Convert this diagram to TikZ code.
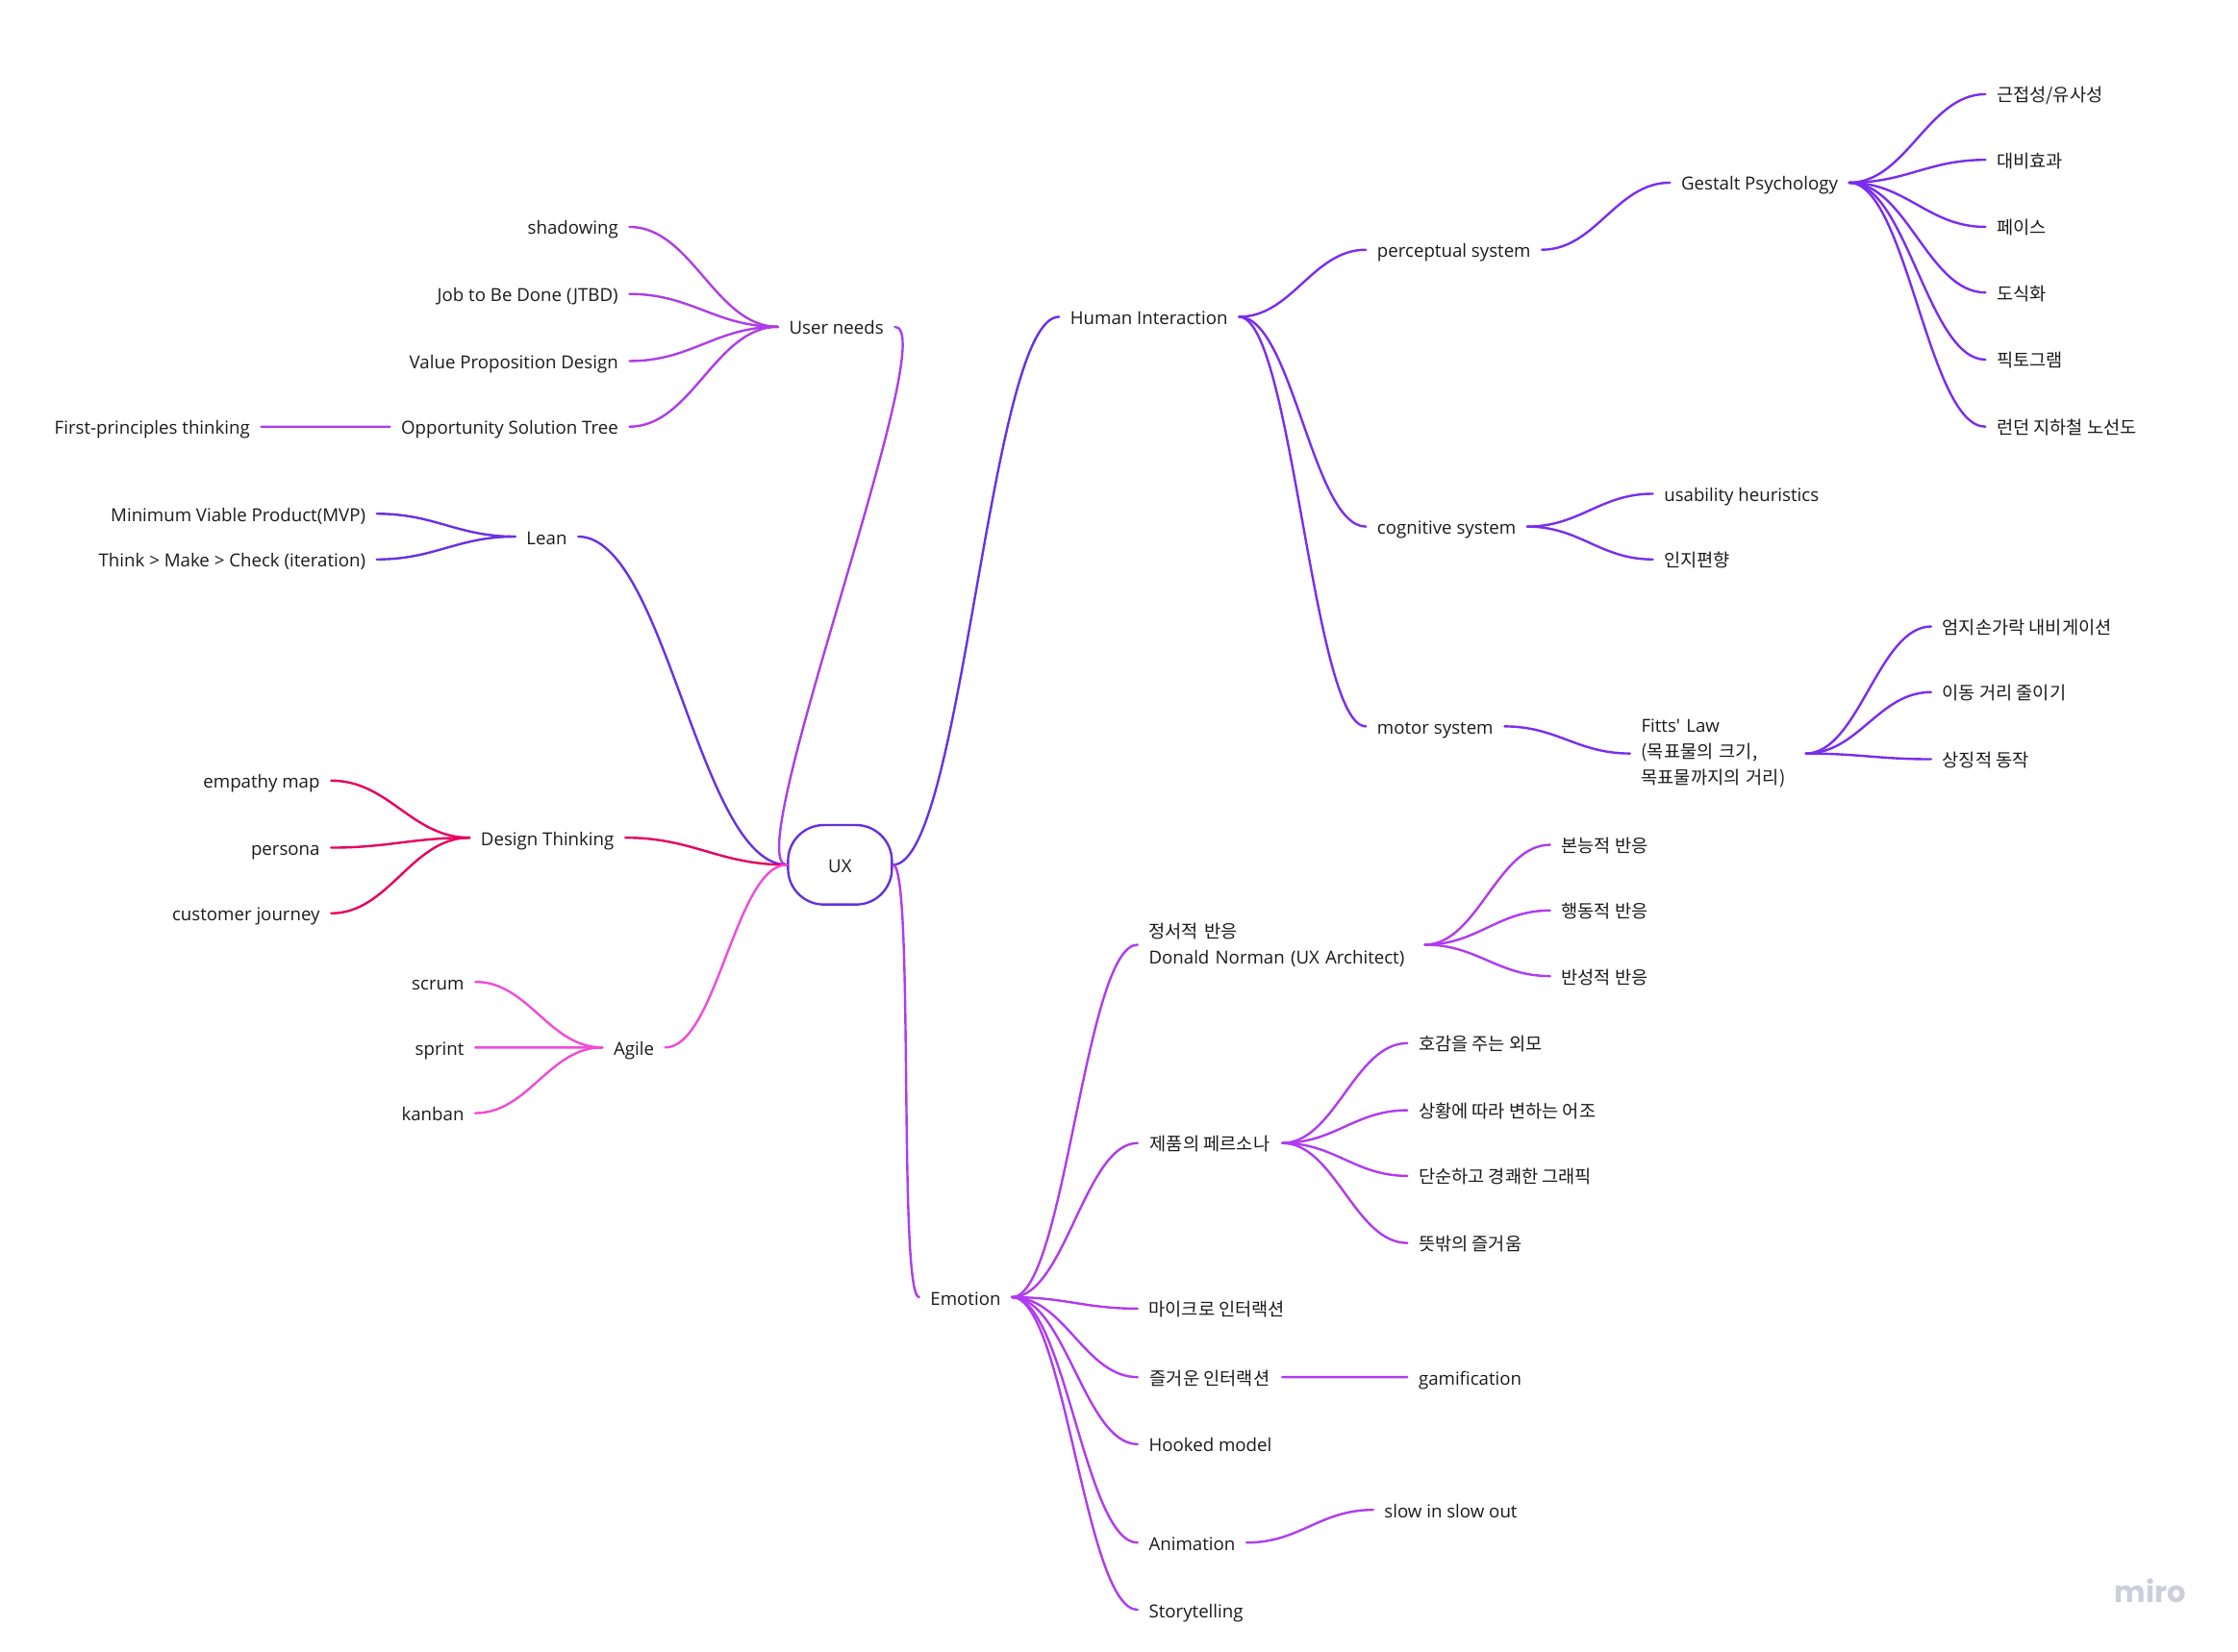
\documentclass[tikz,border=0pt]{standalone}
\usepackage{fontspec}
\setmainfont{Open Sans}
\newfontfamily\krfont{Noto Sans CJK KR}
\newfontfamily\logofont{Poppins}
\usetikzlibrary{calc}
\definecolor{rootline}{HTML}{6631DC}
\definecolor{humanline}{HTML}{7A2DEF}
\definecolor{leanline}{HTML}{6A30E4}
\definecolor{needsline}{HTML}{AD3DE8}
\definecolor{emotionline}{HTML}{B03BF0}
\definecolor{designline}{HTML}{E6005F}
\definecolor{agileline}{HTML}{F04BD6}
\definecolor{inktext}{HTML}{1A1A1A}
\tikzset{
    topic/.style = {inner xsep=8.6pt, inner ysep=0pt, anchor=west, align=left, text=inktext, font=\fontsize{14pt}{20pt}\selectfont},
    item/.style = {topic, text height=15pt, text depth=3pt},
    link/.style = {line width=1.8pt, line cap=round},
    sline/.style = {to path={.. controls ($(\tikztostart)!.42!(\tikztostart -| \tikztotarget)$) and ($(\tikztotarget)!.42!(\tikztotarget -| \tikztostart)$) .. (\tikztotarget)}}
}

\begin{document}
\begin{tikzpicture}[x=1.113pt, y=-1.113pt]
    \useasboundingbox (0, 0) rectangle (1568, 1157.6);

    % Root
    \node[draw=rootline, line width=1.8pt, rounded corners=28pt, minimum width=81pt, minimum height=62pt, inner sep=0pt, text height=15pt, text depth=3pt, text=inktext, font=\fontsize{14pt}{20pt}\selectfont] (ux) at (588.5, 606) {UX};

    % Human Interaction branch
    \node[item] (human) at (742, 222) {Human Interaction};
    \node[item] (perceptual) at (957, 175) {perceptual system};
    \node[item] (gestalt) at (1170, 128) {Gestalt Psychology};
    \node[item] (near) at (1391, 66) {\krfont 근접성/유사성};
    \node[item] (contrast) at (1391, 112) {\krfont 대비효과};
    \node[item] (face) at (1391, 159) {\krfont 페이스};
    \node[item] (schema) at (1391, 205) {\krfont 도식화};
    \node[item] (picto) at (1391, 252) {\krfont 픽토그램};
    \node[item] (tube) at (1391, 299) {\krfont 런던 지하철 노선도};
    \node[item] (cognitive) at (957, 369) {cognitive system};
    \node[item] (heuristics) at (1158, 346) {usability heuristics};
    \node[item] (bias) at (1158, 392) {\krfont 인지편향};
    \node[item] (motor) at (957, 509) {motor system};
    \node[topic, text width=119.6pt] (fitts) at (1142, 528) {Fitts\textquotesingle{} Law\\{\krfont (목표물의 크기,}\\{\krfont 목표물까지의 거리)}};
    \node[item] (thumb) at (1353, 439) {\krfont 엄지손가락 내비게이션};
    \node[item] (distance) at (1353, 485) {\krfont 이동 거리 줄이기};
    \node[item] (symbol) at (1353, 532) {\krfont 상징적 동작};

    \draw[link, leanline] (ux.east) to[sline] (human.west);
    \draw[link, humanline] (human.east) to[sline] (perceptual.west);
    \draw[link, humanline] (human.east) to[sline] (cognitive.west);
    \draw[link, humanline] (human.east) to[sline] (motor.west);
    \draw[link, humanline] (perceptual.east) to[sline] (gestalt.west);
    \foreach \kid in {near, contrast, face, schema, picto, tube} {
        \draw[link, humanline] (gestalt.east) to[sline] (\kid.west);
    }
    \foreach \kid in {heuristics, bias} {
        \draw[link, humanline] (cognitive.east) to[sline] (\kid.west);
    }
    \draw[link, humanline] (motor.east) to[sline] (fitts.west);
    \foreach \kid in {thumb, distance, symbol} {
        \draw[link, humanline] (fitts.east) to[sline] (\kid.west);
    }

    % Emotion branch
    \node[item] (emotion) at (644, 909) {Emotion};
    \node[topic, text width=206.4pt] (norman) at (797, 662) {{\krfont 정서적 반응}\\Donald Norman (UX Architect)};
    \node[item] (instinct) at (1086, 592) {\krfont 본능적 반응};
    \node[item] (behavior) at (1086, 638) {\krfont 행동적 반응};
    \node[item] (reflect) at (1086, 684) {\krfont 반성적 반응};
    \node[item, minimum width=112.4pt] (persona2) at (797, 801) {\krfont 제품의 페르소나};
    \node[item] (looks) at (986, 731) {\krfont 호감을 주는 외모};
    \node[item] (tone) at (986, 778) {\krfont 상황에 따라 변하는 어조};
    \node[item] (graphic) at (986, 824) {\krfont 단순하고 경쾌한 그래픽};
    \node[item] (delight) at (986, 871) {\krfont 뜻밖의 즐거움};
    \node[item] (micro) at (797, 917) {\krfont 마이크로 인터랙션};
    \node[item, minimum width=112.4pt] (joyful) at (797, 965) {\krfont 즐거운 인터랙션};
    \node[item] (gamify) at (986, 965) {gamification};
    \node[item] (hooked) at (797, 1012) {Hooked model};
    \node[item] (anim) at (797, 1081) {Animation};
    \node[item] (slowio) at (962, 1058) {slow in slow out};
    \node[item] (story) at (797, 1128) {Storytelling};

    \draw[link, emotionline] (ux.east) .. controls +(15, 0) and +(-15, 0) .. (emotion.west);
    \foreach \kid in {norman, persona2, micro, joyful, hooked, anim, story} {
        \draw[link, emotionline] (emotion.east) to[sline] (\kid.west);
    }
    \foreach \kid in {instinct, behavior, reflect} {
        \draw[link, emotionline] (norman.east) to[sline] (\kid.west);
    }
    \foreach \kid in {looks, tone, graphic, delight} {
        \draw[link, emotionline] (persona2.east) to[sline] (\kid.west);
    }
    \draw[link, emotionline] (joyful.east) to[sline] (gamify.west);
    \draw[link, emotionline] (anim.east) to[sline] (slowio.west);

    % User needs branch
    \node[item] (needs) at (545, 229) {User needs};
    \node[item, anchor=east] (shadow) at (441, 159) {shadowing};
    \node[item, anchor=east] (jtbd) at (441, 206) {Job to Be Done (JTBD)};
    \node[item, anchor=east] (value) at (441, 253) {Value Proposition Design};
    \node[item, anchor=east] (ost) at (441, 299) {Opportunity Solution Tree};
    \node[item, anchor=east] (first) at (183, 299) {First-principles thinking};

    \draw[link, needsline] (ux.west) .. controls +(-35, 0) and +(35, 0) .. (needs.east);
    \foreach \kid in {shadow, jtbd, value, ost} {
        \draw[link, needsline] (needs.west) to[sline] (\kid.east);
    }
    \draw[link, needsline] (ost.west) to[sline] (first.east);

    % Lean branch
    \node[item] (lean) at (361, 376) {Lean};
    \node[item, anchor=east] (mvp) at (264, 360) {Minimum Viable Product(MVP)};
    \node[item, anchor=east] (think) at (264, 392) {Think > Make > Check (iteration)};

    \draw[link, leanline] (ux.west) to[sline] (lean.east);
    \foreach \kid in {mvp, think} {
        \draw[link, leanline] (lean.west) to[sline] (\kid.east);
    }

    % Design Thinking branch
    \node[item] (design) at (329, 587) {Design Thinking};
    \node[item, anchor=east] (empathy) at (232, 547) {empathy map};
    \node[item, anchor=east] (persona) at (232, 594) {persona};
    \node[item, anchor=east] (journey) at (232, 640) {customer journey};

    \draw[link, designline] (ux.west) to[sline] (design.east);
    \foreach \kid in {empathy, persona, journey} {
        \draw[link, designline] (design.west) to[sline] (\kid.east);
    }

    % Agile branch
    \node[item] (agile) at (422, 734) {Agile};
    \node[item, anchor=east] (scrum) at (333, 688) {scrum};
    \node[item, anchor=east] (sprint) at (333, 734) {sprint};
    \node[item, anchor=east] (kanban) at (333, 780) {kanban};

    \draw[link, agileline] (ux.west) to[sline] (agile.east);
    \foreach \kid in {scrum, sprint, kanban} {
        \draw[link, agileline] (agile.west) to[sline] (\kid.east);
    }

    % Watermark
    \node[inner sep=0pt, text={rgb,255:red,205;green,205;blue,220}, font=\logofont\bfseries\fontsize{23pt}{23pt}\selectfont] (logo) at (1506.5, 1115) {miro};
\end{tikzpicture}
\end{document}
